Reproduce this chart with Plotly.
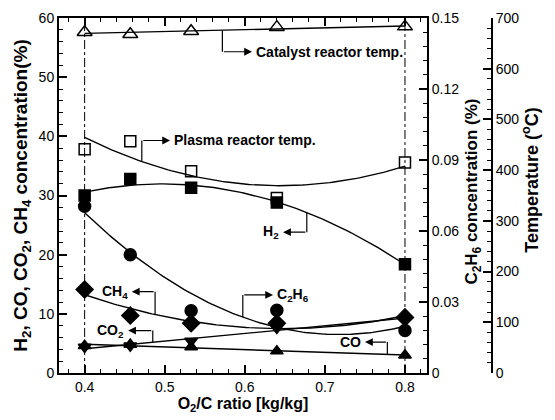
import numpy as np
import plotly.graph_objects as go

# ---------------- data ----------------
ratio = [0.4, 0.457, 0.533, 0.64, 0.8]                 # O2/C ratio [kg/kg]
h2 = [30.0, 32.8, 31.3, 28.8, 18.4]                    # %
co = [4.6, 4.8, 4.4, 3.7, 3.0]                         # %
co2 = [4.4, 4.6, 5.4, 7.6, 9.2]                        # %
ch4 = [14.1, 9.7, 8.4, 8.4, 9.4]                       # %
c2h6 = [0.0705, 0.050, 0.0263, 0.0265, 0.018]          # %
plasma_temp = [441, 457, 398, 345, 415]                # degC
catalyst_temp = [672, 668, 674, 682, 683]              # degC

c2h6_ticks = [0, 0.03, 0.06, 0.09, 0.12, 0.15]
c2h6_ticktext = ["0", "0.03", "0.06", "0.09", "0.12", "0.15"]

FONT = "Liberation Sans, Arial, Helvetica, sans-serif"
BLACK = "black"

xs = np.linspace(min(ratio), max(ratio), 120)


def fit(y, deg, x=xs):
    return np.polyval(np.polyfit(ratio, y, deg), x)


fig = go.Figure()


def add_series(y, deg, symbol, size, axis, lw=1.4, mline=1.5):
    fig.add_trace(go.Scatter(x=xs, y=fit(y, deg), mode="lines", yaxis=axis,
                             line=dict(color=BLACK, width=lw), showlegend=False,
                             hoverinfo="skip"))
    fig.add_trace(go.Scatter(x=ratio, y=y, mode="markers", yaxis=axis,
                             marker=dict(symbol=symbol, size=size, color=BLACK,
                                         line=dict(color=BLACK, width=mline)),
                             showlegend=False))


add_series(catalyst_temp, 1, "triangle-up-open", 13, "y3")
add_series(plasma_temp, 2, "square-open", 11, "y3")
add_series(h2, 2, "square", 11, "y")
add_series(c2h6, 2, "circle", 12, "y2")
add_series(co, 1, "triangle-up", 11, "y")
add_series(co2, 1, "triangle-down", 11, "y")
add_series(ch4, 2, "diamond", 13, "y")

# ---------------- call-out labels with elbow arrows ----------------
T2L = 60 / 700      # temperature -> left-axis units
C2L = 60 / 0.15     # C2H6 -> left-axis units

callouts = [
    ("<b>Catalyst reactor temp.</b>", 0.572, fit(catalyst_temp, 1, 0.572) * T2L, 54.3, 0.609),
    ("<b>Plasma reactor temp.</b>", 0.4714, fit(plasma_temp, 2, 0.4714) * T2L, 39.3, 0.5067),
    ("<b>H<sub>2</sub></b>", 0.6774, fit(h2, 2, 0.6774), 23.8, 0.6478),
    ("<b>CH<sub>4</sub></b>", 0.488, fit(ch4, 2, 0.488), 13.75, 0.4589),
    ("<b>CO<sub>2</sub></b>", 0.4851, fit(co2, 1, 0.4851), 7.17, 0.4543),
    ("<b>C<sub>2</sub>H<sub>6</sub></b>", 0.5975, fit(c2h6, 2, 0.5975) * C2L, 13.2, 0.6353),
    ("<b>CO</b>", 0.778, fit(co, 1, 0.778), 5.22, 0.7501),
]

shapes = []
annotations = []
for text, xstem, ycurve, yelb, xtip in callouts:
    shapes.append(dict(type="line", xref="x", yref="y", x0=xstem, x1=xstem,
                       y0=float(ycurve), y1=yelb, line=dict(color=BLACK, width=1.2)))
    annotations.append(dict(x=xtip, y=yelb, xref="x", yref="y", ax=xstem, ay=yelb,
                            axref="x", ayref="y", text="", showarrow=True,
                            arrowhead=2, arrowsize=1.3, arrowwidth=1.2,
                            arrowcolor=BLACK, standoff=0, startstandoff=0))
    right = xtip > xstem
    annotations.append(dict(x=xtip, y=yelb, xref="x", yref="y", text=text,
                            showarrow=False, xanchor="left" if right else "right",
                            yanchor="middle", xshift=2 if right else -2,
                            font=dict(family=FONT, size=14, color=BLACK)))

# dash-dot vertical guide lines at the first and last ratio
for xv in (ratio[0], ratio[-1]):
    shapes.append(dict(type="line", xref="x", yref="paper", x0=xv, x1=xv, y0=0, y1=1,
                       line=dict(color=BLACK, width=1, dash="dashdot")))

# right-hand axis titles
annotations.append(dict(x=0.8519, y=0.511, xref="paper", yref="paper", textangle=-90,
                        text="<b>C<sub>2</sub>H<sub>6</sub> concentration (%)</b>",
                        showarrow=False, xanchor="center", yanchor="middle",
                        font=dict(family=FONT, size=17, color=BLACK)))
annotations.append(dict(x=0.9700, y=0.543, xref="paper", yref="paper", textangle=-90,
                        text="<b>Temperature (<sup>o</sup>C)</b>",
                        showarrow=False, xanchor="center", yanchor="middle",
                        font=dict(family=FONT, size=18, color=BLACK)))

axis_common = dict(showline=True, linecolor=BLACK, linewidth=2, ticks="inside",
                   tickcolor=BLACK, tickwidth=2, ticklen=8, showgrid=False,
                   zeroline=False, tickfont=dict(family=FONT, size=14, color=BLACK))

fig.update_layout(
    width=555, height=420,
    margin=dict(l=59, r=10, t=13, b=39),
    paper_bgcolor="white", plot_bgcolor="white",
    font=dict(family=FONT, color=BLACK),
    xaxis=dict(**axis_common, domain=[0, 0.7572], range=[0.368, 0.8275],
               tick0=0, dtick=0.1, tickformat=".1f", mirror="ticks",
               minor=dict(ticks="inside", ticklen=4, tickwidth=1, tickcolor=BLACK,
                          tick0=0, dtick=0.02, showgrid=False),
               title=dict(text="<b>O<sub>2</sub>/C ratio [kg/kg]</b>",
                          font=dict(family=FONT, size=16, color=BLACK), standoff=4)),
    yaxis=dict(**axis_common, range=[0, 60], tick0=0, dtick=10,
               minor=dict(ticks="inside", ticklen=4, tickwidth=1, tickcolor=BLACK,
                          tick0=0, dtick=2, showgrid=False),
               title=dict(text="<b>H<sub>2</sub>, CO, CO<sub>2</sub>, CH<sub>4</sub> concentration(%)</b>",
                          font=dict(family=FONT, size=19, color=BLACK), standoff=6)),
    yaxis2=dict(**axis_common, overlaying="y", side="right", anchor="x",
                range=[0, 0.15], tickmode="array", tickvals=c2h6_ticks,
                ticktext=c2h6_ticktext,
                minor=dict(ticks="inside", ticklen=4, tickwidth=1, tickcolor=BLACK,
                           tickmode="linear", tick0=0, dtick=0.006, showgrid=False)),
    yaxis3=dict(**axis_common, overlaying="y", side="right", anchor="free",
                position=0.8909, range=[0, 700], tick0=0, dtick=100,
                minor=dict(ticks="inside", ticklen=4, tickwidth=1, tickcolor=BLACK,
                           tick0=0, dtick=20, showgrid=False)),
    shapes=shapes,
    annotations=annotations,
)

fig.write_html("out.html")
